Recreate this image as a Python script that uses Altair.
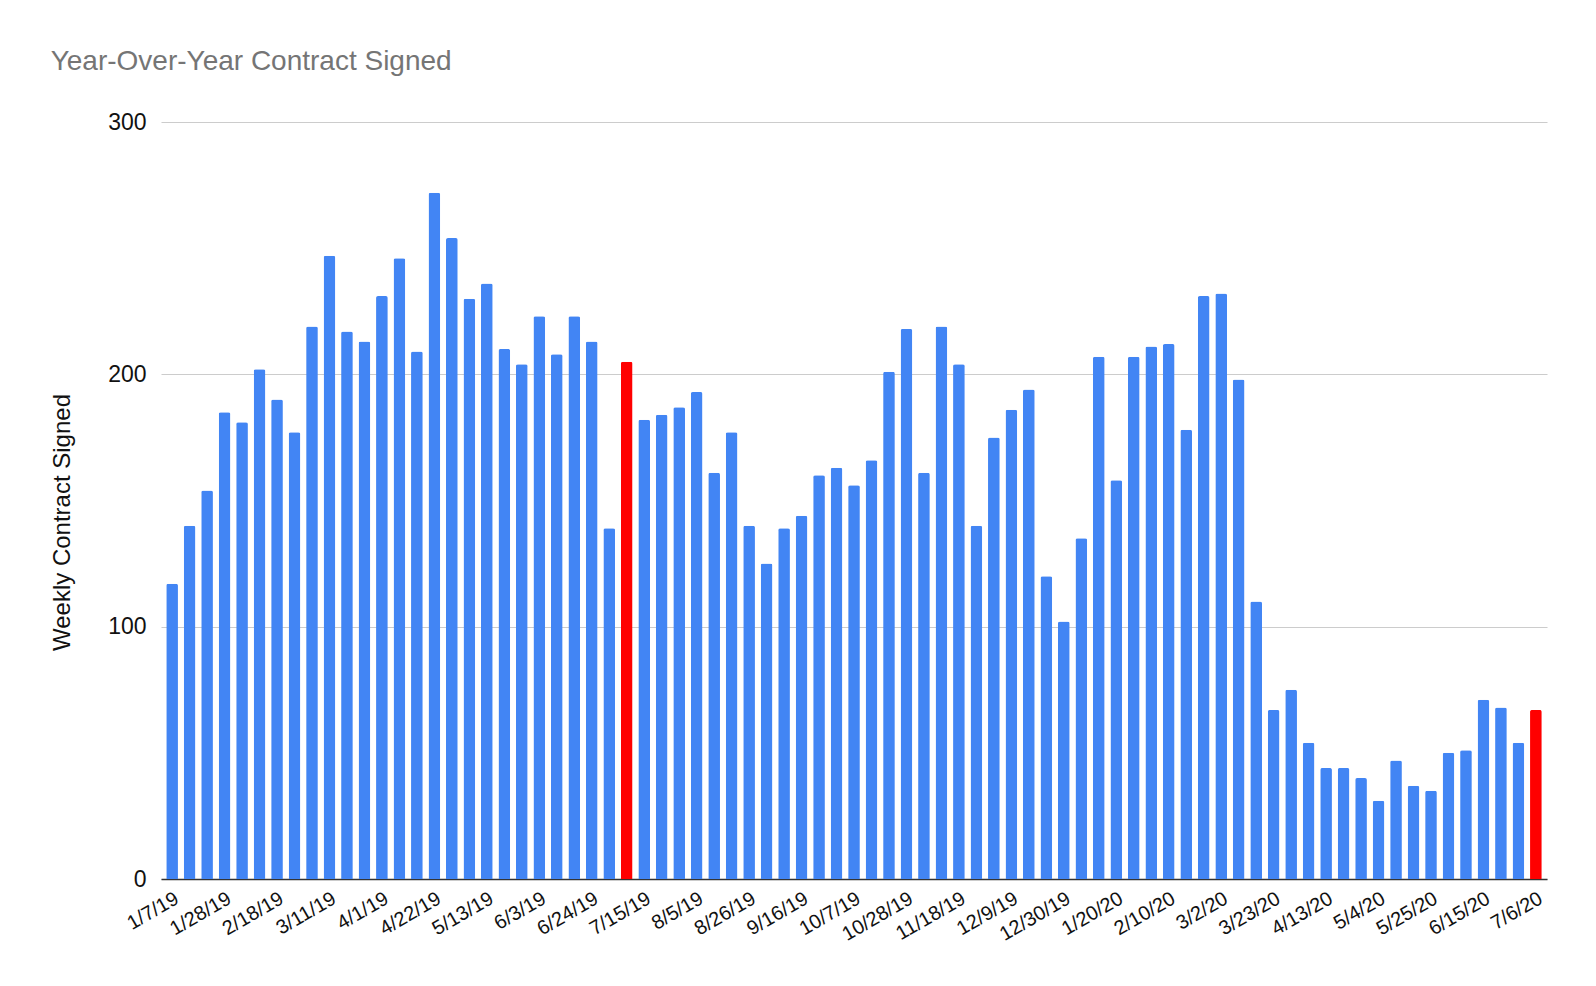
import altair as alt
import pandas as pd

weeks = [
    "1/7/19", "1/14/19", "1/21/19", "1/28/19", "2/4/19", "2/11/19", "2/18/19", "2/25/19",
    "3/4/19", "3/11/19", "3/18/19", "3/25/19", "4/1/19", "4/8/19", "4/15/19", "4/22/19",
    "4/29/19", "5/6/19", "5/13/19", "5/20/19", "5/27/19", "6/3/19", "6/10/19", "6/17/19",
    "6/24/19", "7/1/19", "7/8/19", "7/15/19", "7/22/19", "7/29/19", "8/5/19", "8/12/19",
    "8/19/19", "8/26/19", "9/2/19", "9/9/19", "9/16/19", "9/23/19", "9/30/19", "10/7/19",
    "10/14/19", "10/21/19", "10/28/19", "11/4/19", "11/11/19", "11/18/19", "11/25/19", "12/2/19",
    "12/9/19", "12/16/19", "12/23/19", "12/30/19", "1/6/20", "1/13/20", "1/20/20", "1/27/20",
    "2/3/20", "2/10/20", "2/17/20", "2/24/20", "3/2/20", "3/9/20", "3/16/20", "3/23/20",
    "3/30/20", "4/6/20", "4/13/20", "4/20/20", "4/27/20", "5/4/20", "5/11/20", "5/18/20",
    "5/25/20", "6/1/20", "6/8/20", "6/15/20", "6/22/20", "6/29/20", "7/6/20",
]

signed = [
    117, 140, 154, 185, 181, 202, 190, 177,
    219, 247, 217, 213, 231, 246, 209, 272,
    254, 230, 236, 210, 204, 223, 208, 223,
    213, 139, 205, 182, 184, 187, 193, 161,
    177, 140, 125, 139, 144, 160, 163, 156,
    166, 201, 218, 161, 219, 204, 140, 175,
    186, 194, 120, 102, 135, 207, 158, 207,
    211, 212, 178, 231, 232, 198, 110, 67,
    75, 54, 44, 44, 40, 31, 47, 37,
    35, 50, 51, 71, 68, 54, 67,
]

highlighted = ["7/8/19", "7/6/20"]

tick_labels = [
    "1/7/19", "1/28/19", "2/18/19", "3/11/19", "4/1/19", "4/22/19", "5/13/19", "6/3/19",
    "6/24/19", "7/15/19", "8/5/19", "8/26/19", "9/16/19", "10/7/19", "10/28/19", "11/18/19",
    "12/9/19", "12/30/19", "1/20/20", "2/10/20", "3/2/20", "3/23/20", "4/13/20", "5/4/20",
    "5/25/20", "6/15/20", "7/6/20",
]

y_ticks = [0, 100, 200, 300]

df = pd.DataFrame({
    "week": weeks,
    "value": signed,
    "kind": ["highlight" if w in highlighted else "normal" for w in weeks],
})

FONT = "Liberation Sans"

chart = alt.Chart(df).mark_bar(
    cornerRadiusTopLeft=2, cornerRadiusTopRight=2
).encode(
    x=alt.X(
        "week:N",
        sort=weeks,
        scale=alt.Scale(paddingInner=0.33, paddingOuter=0.3),
        axis=alt.Axis(
            values=tick_labels,
            labelAngle=-30,
            labelAlign="right",
            labelBaseline="top",
            labelFontSize=20,
            labelFont=FONT,
            labelColor="#111111",
            labelOverlap=False,
            labelPadding=9,
            ticks=False,
            domainColor="#333333",
            domainWidth=1.5,
            grid=False,
            title=None,
        ),
    ),
    y=alt.Y(
        "value:Q",
        scale=alt.Scale(domain=[0, 300], nice=False),
        axis=alt.Axis(
            values=y_ticks,
            labelFontSize=23,
            labelFont=FONT,
            labelColor="#111111",
            labelPadding=15,
            ticks=False,
            domain=False,
            grid=True,
            gridColor="#cccccc",
            gridWidth=1.2,
            title="Weekly Contract Signed",
            titleFont=FONT,
            titleFontSize=24,
            titleFontWeight="normal",
            titleColor="#111111",
            titlePadding=33,
            titleY=400,
        ),
    ),
    color=alt.Color(
        "kind:N",
        scale=alt.Scale(domain=["normal", "highlight"], range=["#4285F4", "#FF0000"]),
        legend=None,
    ),
).properties(
    width=1386,
    height=757,
    padding={"left": 42, "top": 40, "right": 20, "bottom": 10},
    title=alt.TitleParams(
        "Year-Over-Year Contract Signed",
        anchor="start",
        frame="bounds",
        font=FONT,
        fontSize=28,
        fontWeight="normal",
        color="#757575",
        offset=35,
    ),
).configure_view(stroke=None)

chart.save("out.html", embed_options={"renderer": "svg", "actions": False})
